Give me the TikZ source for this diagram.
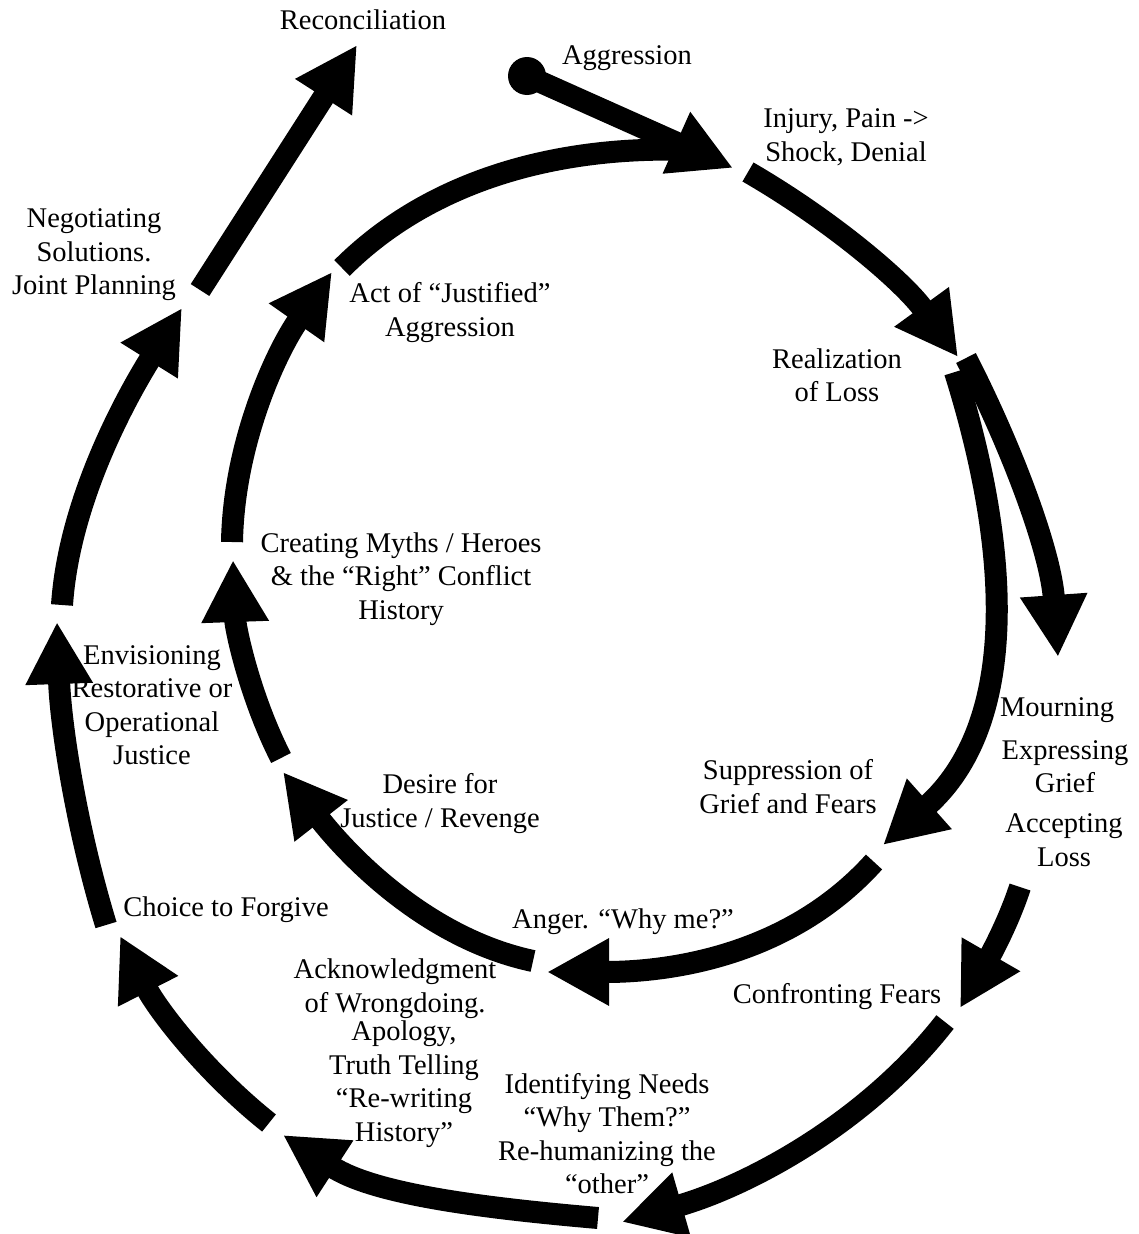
\documentclass[tikz,border=0pt]{standalone}
\usepackage{fontspec}
\setmainfont{Liberation Serif}
\usetikzlibrary{arrows.meta}
\begin{document}
\begin{tikzpicture}[x=1pt,y=-1pt,
  shaft/.style={line width=22pt,draw=black},
  headed/.style={shaft,-{Triangle[width=63pt,length=62pt]}},
  lbl/.style={font=\fontsize{28.5}{33.5}\selectfont,align=center,inner sep=0pt,text=black},
  dotstyle/.style={circle,fill=black,minimum size=38pt,inner sep=0pt}]
\useasboundingbox (0,0) rectangle (1138,1234);
% ---------- labels ----------
\node[lbl] (recon)    at (363,20)     {Reconciliation};
\node[lbl] (aggr)     at (627,58)     {Aggression};
\node[lbl] (injury)   at (846,137.5)  {Injury, Pain ->\\Shock, Denial};
\node[lbl] (realize)  at (837,375)    {Realization\\of Loss};
\node[lbl] (act)      at (450,312.5)  {Act of “Justified”\\Aggression};
\node[lbl] (negot)    at (94,255)     {Negotiating\\Solutions.\\Joint Planning};
\node[lbl] (myths)    at (401,579)    {Creating Myths / Heroes\\\& the “Right” Conflict\\History};
\node[lbl] (envis)    at (152,705)    {Envisioning\\Restorative or\\Operational\\Justice};
\node[lbl] (desire)   at (440,803.5)  {Desire for\\Justice / Revenge};
\node[lbl] (suppr)    at (788,786.5)  {Suppression of\\Grief and Fears};
\node[lbl] (mourn)    at (1057,710)   {Mourning};
\node[lbl] (express)  at (1065,766.5) {Expressing\\Grief};
\node[lbl] (accept)   at (1064,840)   {Accepting\\Loss};
\node[lbl] (anger)    at (623,922)    {Anger. “Why me?”};
\node[lbl] (choice)   at (226,910)    {Choice to Forgive};
\node[lbl] (ack)      at (395,988.5)  {Acknowledgment\\of Wrongdoing.};
\node[lbl] (apology)  at (404,1084)   {Apology,\\Truth Telling\\“Re-writing\\History”};
\node[lbl] (needs)    at (607,1133.5) {Identifying Needs\\“Why Them?”\\Re-humanizing the\\“other”};
\node[lbl] (confront) at (837,997)    {Confronting Fears};
% ---------- arrow end points ----------
\node[dotstyle] (dot) at (527,76) {};
\coordinate (aggt) at (733,168);
\coordinate (i1s) at (342,268);  \coordinate (i1e) at (690,150);
\coordinate (i2s) at (748,172);  \coordinate (i2t) at (958,357);
\coordinate (i3s) at (955,372);  \coordinate (i3t) at (883,845);
\coordinate (i4s) at (874,862);  \coordinate (i4t) at (547,972);
\coordinate (i5s) at (533,961);  \coordinate (i5t) at (283,772);
\coordinate (i6s) at (281,758);  \coordinate (i6t) at (233,560);
\coordinate (i7s) at (232,542);  \coordinate (i7t) at (332,272);
\coordinate (o1s) at (966,358);  \coordinate (o1t) at (1058,657);
\coordinate (o2s) at (1020,887); \coordinate (o2t) at (960,1008);
\coordinate (o3s) at (945,1022); \coordinate (o3t) at (622,1222);
\coordinate (o4s) at (598,1218); \coordinate (o4t) at (283,1135);
\coordinate (o5s) at (269,1123); \coordinate (o5t) at (120,936);
\coordinate (o6s) at (106,925);  \coordinate (o6t) at (57,622);
\coordinate (o7s) at (62,605);   \coordinate (o7t) at (182,308);
\coordinate (o8s) at (200,290);  \coordinate (o8t) at (357,45);
% ---------- inner cycle ----------
\draw[shaft]  (i1s) .. controls (432.4,177.6) and (562.3,145.5) .. (i1e);
\draw[headed] (dot.center) -- (aggt);
\draw[headed] (i2s) .. controls (829.7,219.2) and (902.6,280.7) .. (i2t);
\draw[headed] (i3s) .. controls (1012,554) and (1018,725) .. (i3t);
\draw[headed] (i4s) .. controls (790.4,954.9) and (672,972) .. (i4t);
\draw[headed] (i5s) .. controls (427.7,938.6) and (349.3,856.9) .. (i5t);
\draw[headed] (i6s) .. controls (249.8,696.8) and (235.4,628.7) .. (i6t);
\draw[headed] (i7s) .. controls (233.7,443.9) and (275.7,352.4) .. (i7t);
% ---------- outer cycle ----------
\draw[headed] (o1s) .. controls (1014,452) and (1050.7,552.9) .. (o1t);
\draw[headed] (o2s) .. controls (1006.1,929.8) and (982.5,969) .. (o2t);
\draw[headed] (o3s) .. controls (865.1,1124.3) and (746.8,1186.2) .. (o3t);
\draw[headed] (o4s) .. controls (488.2,1208.4) and (375.4,1195) .. (o4t);
\draw[headed] (o5s) .. controls (205,1072) and (157.2,1009.1) .. (o5t);
\draw[headed] (o6s) .. controls (76,826.8) and (60.6,724.6) .. (o6t);
\draw[headed] (o7s) .. controls (69,500) and (127,396) .. (o7t);
\draw[headed] (o8s) -- (o8t);
\end{tikzpicture}
\end{document}
